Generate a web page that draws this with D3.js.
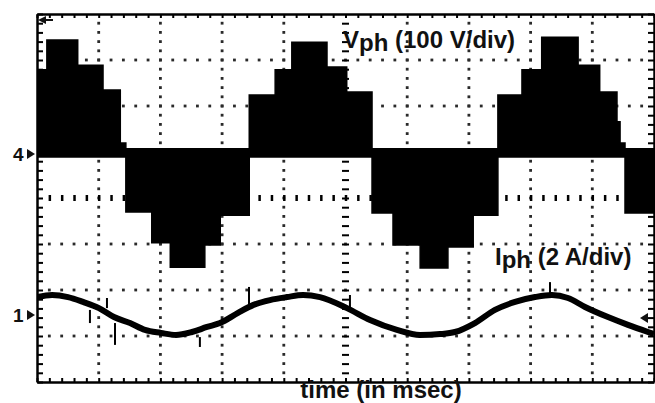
<!DOCTYPE html>
<html>
<head>
<meta charset="utf-8">
<script src="https://cdn.jsdelivr.net/npm/d3@7"></script>
<style>
  body { margin: 0; background: #fff; }
  svg { display: block; font-family: Arial, "Liberation Sans", sans-serif; }
</style>
</head>
<body>
<svg id="scope" width="655" height="403"></svg>
<script>
// time in ms (5 ms/div), phase voltage steps (V), level held until the next time
const stepTimes = [0, 0.8, 3.3, 5.35, 6.75, 7.2, 9.3, 10.8, 13.6, 14.85, 17.2, 19.3, 20.65, 23.5, 25.1,
                   27.15, 28.85, 31.05, 33.3, 35.35, 37.35, 39.3, 40.9, 43.85, 45.6, 47.0, 47.25, 47.65]
const stepVolts = [183, 248, 193, 139, 24, -126, -193, -246, -198, -133, 128, 183, 243, 189, 135,
                   -128, -198, -248, -202, -133, 128, 183, 254, 193, 135, 70, 24, -128]

// phase current samples (A)
const currentTimes = [0, 1.22, 2.51, 3.73, 5.02, 6.24, 7.54, 8.75, 10.05, 11.26, 12.56, 13.78, 14.83, 16.29,
                      17.5, 18.88, 20.26, 21.56, 22.93, 25.12, 26.99, 29.17, 31.04, 32.66, 33.87, 35.49,
                      37.11, 38.74, 40.36, 41.73, 43.03, 44.41, 46.27, 47.89, 49.51, 50]
const currentAmps = [0.78, 0.87, 0.78, 0.57, 0.30, -0.09, -0.35, -0.65, -0.78, -0.87, -0.74, -0.52, -0.35, 0.09,
                     0.43, 0.65, 0.78, 0.87, 0.78, 0.30, -0.22, -0.65, -0.87, -0.83, -0.74, -0.35,
                     0.22, 0.57, 0.78, 0.87, 0.74, 0.35, -0.09, -0.43, -0.74, -0.83]

// switching spikes on the current trace
const spikeTimes = [4.29, 5.67, 6.32, 13.2, 17.18, 25.36, 41.57]
const spikeTop = [0.22, 0.74, -0.35, -0.96, 1.22, 0.87, 1.43]
const spikeBottom = [-0.35, 0.30, -1.3, -1.39, 0.35, 0.30, 0.74]

const voltLabel = ["V", "ph", " (100 V/div)"]
const currLabel = ["I", "ph", " (2 A/div)"]
const timeLabel = "time (in msec)"

const svg = d3.select("#scope")
const plotLeft = 37, plotRight = 654, plotTop = 14, plotBottom = 382

// scales
const x = d3.scaleLinear().domain([0, 50]).range([plotLeft, plotRight])
const gx = d3.scaleLinear().domain([0, 10]).range([plotLeft, plotRight])
const gy = d3.scaleLinear().domain([0, 8]).range([plotTop, plotBottom])
const yV = d3.scaleLinear().domain([-100, 100]).range([154 + 46, 154 - 46])
const yI = d3.scaleLinear().domain([-2, 2]).range([315 + 46, 315 - 46])

svg.append("clipPath").attr("id", "plotClip")
    .append("rect").attr("x", plotLeft).attr("y", plotTop)
    .attr("width", plotRight - plotLeft).attr("height", plotBottom - plotTop)

//dotted graticule
const minorX = d3.range(0, 10.001, 0.2)
const minorY = d3.range(0, 8.001, 0.2)
const grid = svg.append("g").attr("fill", "#2a2a2a")
for (let i = 1; i < 10; i++) {
    if (i === 5) continue
    grid.selectAll(null).data(minorY.slice(1, -1)).join("rect")
        .attr("x", gx(i) - 1.4).attr("y", d => gy(d) - 1.4).attr("width", 2.8).attr("height", 2.8)
}
for (let j = 1; j < 8; j++) {
    if (j === 4) continue
    grid.selectAll(null).data(minorX.slice(1, -1)).join("rect")
        .attr("x", d => gx(d) - 1.4).attr("y", gy(j) - 1.4).attr("width", 2.8).attr("height", 2.8)
}

// centre cross with minor ticks
const noLabel = () => ""
svg.append("g").attr("transform", `translate(0,${gy(4) - 3})`)
    .call(d3.axisBottom(gx).tickValues(minorX.slice(1, -1)).tickSize(6).tickSizeOuter(0).tickFormat(noLabel))
    .call(g => g.select(".domain").remove())
    .call(g => g.selectAll(".tick line").attr("stroke-width", 2.5))
svg.append("g").attr("transform", `translate(${gx(5) - 3.5},0)`)
    .call(d3.axisRight(gy).tickValues(minorY.slice(1, -1)).tickSize(7).tickSizeOuter(0).tickFormat(noLabel))
    .call(g => g.select(".domain").remove())
    .call(g => g.selectAll(".tick line").attr("stroke-width", 2))

// voltage trace: zero band plus stepped envelope
const stepData = stepTimes.map((t, i) => ({ t, v: stepVolts[i] }))
stepData.push({ t: 50, v: stepVolts[stepVolts.length - 1] })

const traces = svg.append("g").attr("clip-path", "url(#plotClip)")
traces.append("path")
    .attr("d", d3.area().x(d => x(d)).y0(yV(-8)).y1(yV(13))([0, 50]))
    .attr("fill", "#000")
traces.append("path")
    .attr("d", d3.area().curve(d3.curveStepAfter).x(d => x(d.t)).y0(yV(0)).y1(d => yV(d.v))(stepData))
    .attr("fill", "#000").attr("stroke", "#000").attr("stroke-width", 1.5)

// current trace
const currData = currentTimes.map((t, i) => ({ t, a: currentAmps[i] }))
traces.append("path")
    .attr("d", d3.line().curve(d3.curveMonotoneX).x(d => x(d.t)).y(d => yI(d.a))(currData))
    .attr("fill", "none").attr("stroke", "#000").attr("stroke-width", 6)
traces.selectAll(null).data(spikeTimes).join("line")
    .attr("x1", d => x(d)).attr("x2", d => x(d))
    .attr("y1", (d, i) => yI(spikeTop[i])).attr("y2", (d, i) => yI(spikeBottom[i]))
    .attr("stroke", "#000").attr("stroke-width", 2)

// frame with minor ticks
const frame = svg.append("g")
frame.append("g").attr("transform", `translate(0,${plotTop})`)
    .call(d3.axisBottom(gx).tickValues(minorX).tickSize(4).tickSizeOuter(0).tickFormat(noLabel))
frame.append("g").attr("transform", `translate(0,${plotBottom})`)
    .call(d3.axisTop(gx).tickValues(minorX).tickSize(4).tickSizeOuter(0).tickFormat(noLabel))
frame.append("g").attr("transform", `translate(${plotLeft},0)`)
    .call(d3.axisRight(gy).tickValues(minorY).tickSize(6).tickSizeOuter(0).tickFormat(noLabel))
frame.append("g").attr("transform", `translate(${plotRight},0)`)
    .call(d3.axisLeft(gy).tickValues(minorY).tickSize(6).tickSizeOuter(0).tickFormat(noLabel))
frame.selectAll(".tick line").attr("stroke-width", 2)
frame.selectAll(".domain").attr("stroke-width", 2.5)

// channel markers
const markers = svg.append("g").attr("fill", "#111")
markers.append("text").attr("x", 13).attr("y", yV(0) + 7)
    .attr("font-size", "19px").attr("font-weight", "bold").text("4")
markers.append("path").attr("d", `M27,${yV(0) - 5}L35,${yV(0)}L27,${yV(0) + 5}Z`)
markers.append("text").attr("x", 13).attr("y", yI(0) + 7)
    .attr("font-size", "19px").attr("font-weight", "bold").text("1")
markers.append("path").attr("d", `M27,${yI(0) - 5}L35,${yI(0)}L27,${yI(0) + 5}Z`)
markers.append("path")
    .attr("d", `M${plotRight - 14},${yI(0) + 3}L${plotRight - 6},${yI(0) - 2}L${plotRight - 6},${yI(0) + 8}Z`)
// trigger position arrow
markers.append("path").attr("d", "M38,20L46,16L46,24Z")
markers.append("line").attr("x1", 44).attr("x2", 53).attr("y1", 20).attr("y2", 20)
    .attr("stroke", "#111").attr("stroke-width", 2)

// labels
const labels = svg.append("g").attr("font-weight", "bold").attr("font-size", 24).attr("fill", "#111")
const vText = labels.append("text").attr("x", 343).attr("y", 48)
vText.append("tspan").text(voltLabel[0])
vText.append("tspan").attr("dy", 3).text(voltLabel[1])
vText.append("tspan").attr("dy", -3).text(voltLabel[2])
const iText = labels.append("text").attr("x", 495).attr("y", 265)
iText.append("tspan").text(currLabel[0])
iText.append("tspan").attr("dy", 3).text(currLabel[1])
iText.append("tspan").attr("dy", -3).text(currLabel[2])
labels.append("text").attr("x", 381).attr("y", 398).attr("text-anchor", "middle").text(timeLabel)
</script>
</body>
</html>
